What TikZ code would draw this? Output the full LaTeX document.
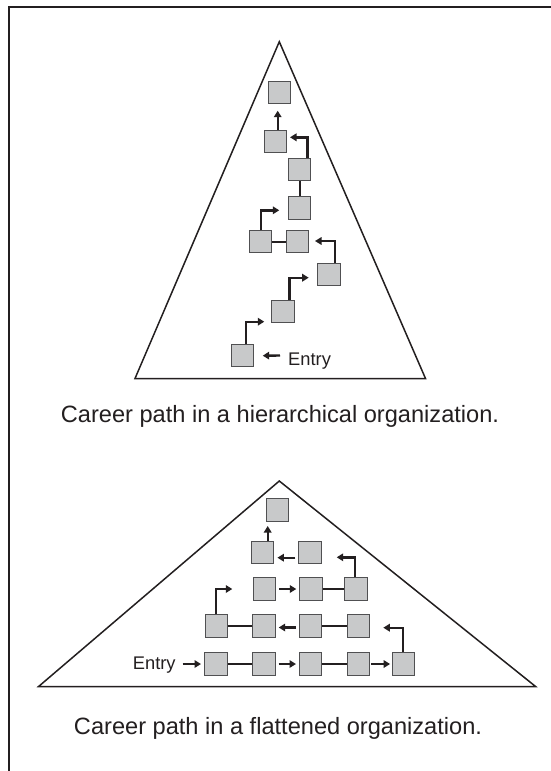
\documentclass[tikz,border=0pt]{standalone}
\usepackage{fontspec}
\setmainfont{Liberation Sans}
\usetikzlibrary{arrows.meta}
\definecolor{ink}{HTML}{231F20}
\definecolor{boxfill}{HTML}{C8C9CA}
\definecolor{boxline}{HTML}{505052}
\begin{document}
\begin{tikzpicture}[x=1pt,y=-1pt,
  box/.style={draw=boxline,fill=boxfill,line width=1.1pt,minimum width=22.3pt,minimum height=22.3pt,inner sep=0pt},
  link/.style={draw=ink,line width=2.4pt},
  arr/.style={draw=ink,line width=2.4pt,-{Triangle[length=6.5pt,width=7.5pt]}},
  gapped/.style={shorten <=3pt,shorten >=3pt},
  tri/.style={draw=ink,line width=1.5pt,line join=miter},
  captext/.style={font=\fontsize{23.6}{28}\selectfont,text=ink,inner sep=0pt,anchor=base},
  entrytext/.style={font=\fontsize{18.3}{22}\selectfont,text=ink,inner sep=0pt,anchor=base west}]
\useasboundingbox (0,0) rectangle (550,771);
\fill[white] (0,0) rectangle (550,771);
% frame
\draw[ink,line width=2.3pt] (9.2,772) -- (9.2,6.9) -- (551,6.9);
% triangles
\draw[tri] (279.3,41.7) -- (135,378.5) -- (425.5,378.5) -- cycle;
\draw[tri] (279.3,481) -- (38.6,686.5) -- (535.6,686.5) -- cycle;

% ---------- hierarchical ----------
\node[box] (B1) at (279.3,92.7) {};
\node[box] (B2) at (275.5,141.3) {};
\node[box] (B3) at (299.7,169.3) {};
\node[box] (B4) at (299.7,208) {};
\node[box] (B5) at (260.7,241.7) {};
\node[box] (B6) at (297.7,241.7) {};
\node[box] (B7) at (329,274.7) {};
\node[box] (B8) at (283,311.7) {};
\node[box] (B9) at (242.7,355.7) {};
\node[entrytext] (EU) at (288,365) {Entry};

\coordinate (eu) at (280,355.5);
\draw[arr] (eu) -- ([xshift=8.3pt]B9.east);
\coordinate (t9) at (264.3,321.7);
\draw[arr] ([xshift=3.3pt]B9.north) |- (t9);
\coordinate (t8) at (308.7,277.7);
\draw[arr] ([xshift=6.3pt]B8.north) |- (t8);
\coordinate (t7) at (315,241);
\draw[arr] ([xshift=6pt]B7.north) |- (t7);
\draw[link] (B5) -- (B6);
\coordinate (t5) at (279.3,210.3);
\draw[arr] ([xshift=0.3pt]B5.north) |- (t5);
\draw[link] (B4) -- (B3);
\coordinate (t3) at (290,137.3);
\draw[arr] ([xshift=7.6pt]B3.north) |- (t3);
\coordinate (t2) at (277.7,110.7);
\draw[arr] ([xshift=2.2pt]B2.north) -- (t2);

\node[captext] (C1) at (280,422) {Career path in a hierarchical organization.};

% ---------- flattened ----------
\node[box] (L1) at (277.3,510) {};
\node[box] (L2) at (262.7,552.7) {};
\node[box] (L3) at (310,552.7) {};
\node[box] (L4) at (264.3,589) {};
\node[box] (L5) at (311,589) {};
\node[box] (L6) at (356,589) {};
\node[box] (M1) at (216.7,626) {};
\node[box] (M2) at (264,626) {};
\node[box] (M3) at (310.7,626) {};
\node[box] (M4) at (358.3,626) {};
\node[box] (N1) at (216,664) {};
\node[box] (N2) at (264,664) {};
\node[box] (N3) at (310.7,664) {};
\node[box] (N4) at (358.3,664) {};
\node[box] (N5) at (403.3,664) {};
\node[entrytext] (EL) at (132.7,669) {Entry};

\coordinate (el) at (182.7,664);
\draw[arr] (el) -- ([xshift=-3.3pt]N1.west);
\draw[link] (N1) -- (N2);
\draw[arr,gapped] (N2) -- (N3);
\draw[link] (N3) -- (N4);
\draw[arr,shorten <=1pt,shorten >=1.5pt] (N4) -- (N5);
\coordinate (tn5) at (383.3,627.7);
\draw[arr] ([xshift=-0.6pt]N5.north) |- (tn5);
\draw[link] (M4) -- (M3);
\draw[arr,gapped] ([yshift=-1.5pt]M3.west) -- ([yshift=-1.5pt]M2.east);
\draw[link] (M2) -- (M1);
\coordinate (tm1) at (232.3,589);
\draw[arr] ([xshift=-0.7pt]M1.north) |- (tm1);
\draw[arr,gapped] (L4) -- (L5);
\draw[link] (L5) -- (L6);
\coordinate (tl6) at (336.7,557.3);
\draw[arr] ([xshift=-1pt]L6.north) |- (tl6);
\draw[arr,gapped] ([yshift=-5pt]L3.west) -- ([yshift=-5pt]L2.east);
\coordinate (tl2) at (267.7,526);
\draw[arr] ([xshift=5pt]L2.north) -- (tl2);

\node[captext] (C2) at (278,734) {Career path in a flattened organization.};
\end{tikzpicture}
\end{document}
